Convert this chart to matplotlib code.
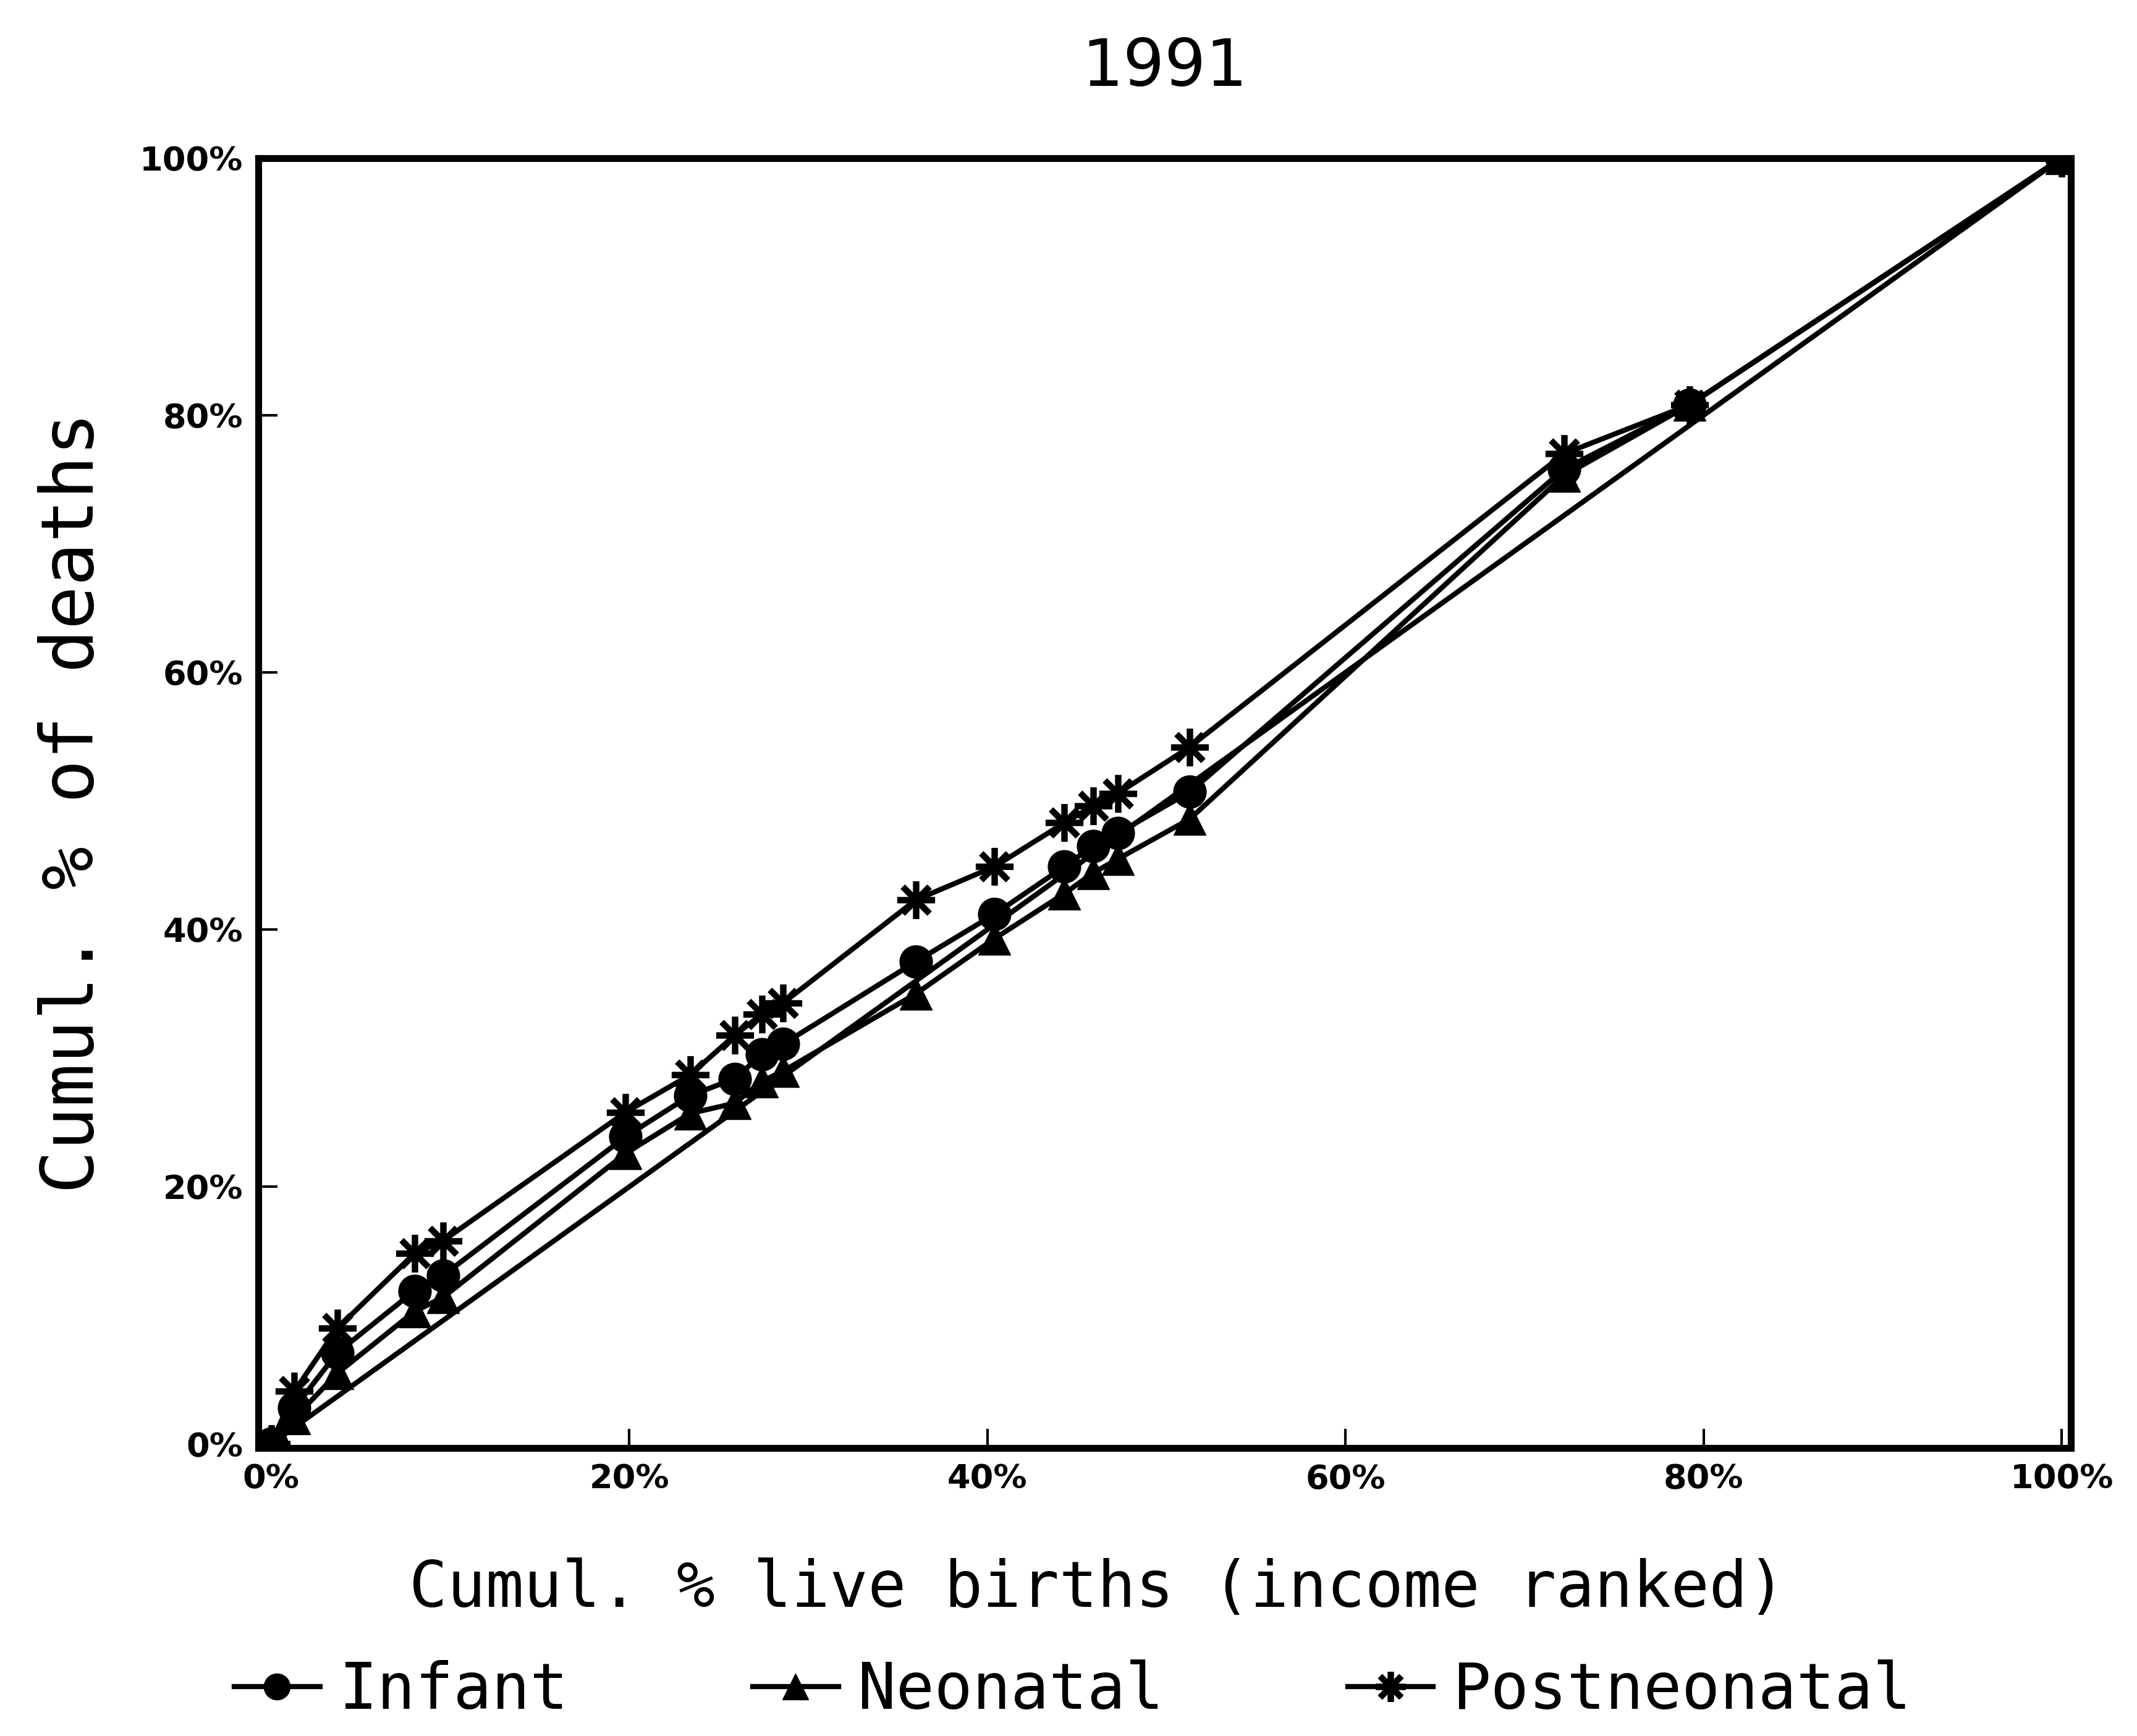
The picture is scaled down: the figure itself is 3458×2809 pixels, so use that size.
import matplotlib
matplotlib.use("Agg")
import matplotlib.pyplot as plt

# cumulative % of live births (income ranked)
births = [0, 1.3, 3.7, 8.0, 9.6, 19.8, 23.4, 25.9, 27.4, 28.6, 36.0, 40.4,
          44.3, 45.9, 47.3, 51.3, 72.2, 79.2, 100]

# cumulative % of deaths
infant = [0, 2.8, 7.1, 11.9, 13.1, 23.9, 27.1, 28.4, 30.3, 31.1, 37.5, 41.2,
          44.9, 46.5, 47.5, 50.7, 75.8, 80.8, 100]
neonatal = [0, 2.0, 5.5, 10.3, 11.4, 22.6, 25.7, 26.5, 28.2, 29.0, 35.0, 39.3,
            42.8, 44.4, 45.5, 48.6, 75.3, 80.8, 100]
postneonatal = [0, 4.1, 9.0, 14.8, 15.8, 25.8, 28.7, 31.8, 33.4, 34.3, 42.3, 44.9,
                48.3, 49.6, 50.6, 54.2, 77.0, 80.8, 100]

equality = [0, 100]

ticks = [0, 20, 40, 60, 80, 100]
tick_labels = ["0%", "20%", "40%", "60%", "80%", "100%"]

mono = "DejaVu Sans Mono"

fig = plt.figure(figsize=(34.58, 28.09), dpi=100)
ax = fig.add_axes([0.121, 0.166, 0.848, 0.743])

lw = 6
ax.plot(equality, equality, color="black", linewidth=lw)
ax.plot(births, infant, color="black", linewidth=lw, marker="o",
        markersize=38, label="Infant")
ax.plot(births, neonatal, color="black", linewidth=lw, marker="^",
        markersize=38, label="Neonatal")
ax.plot(births, postneonatal, color="black", linewidth=lw, marker=(8, 2, 0),
        markersize=44, markeredgewidth=7, label="Postneonatal")

ax.set_xlim(-0.7, 100.5)
ax.set_ylim(-0.3, 100)
ax.set_xticks(ticks)
ax.set_xticklabels(tick_labels)
ax.set_yticks(ticks)
ax.set_yticklabels(tick_labels)
ax.tick_params(direction="in", length=22, width=3, labelsize=39, pad=18)
for lab in ax.get_xticklabels() + ax.get_yticklabels():
    lab.set_fontweight("bold")

for s in ax.spines.values():
    s.set_linewidth(8)

ax.set_title("1991", fontsize=76, pad=84)
ax.set_xlabel("Cumul. % live births (income ranked)", fontsize=74,
              family=mono)
ax.xaxis.set_label_coords(0.463, -0.085)
ax.set_ylabel("Cumul. % of deaths", fontsize=84, family=mono, labelpad=36)

fig.legend(loc="center", bbox_to_anchor=(0.502, 0.026), ncol=3, frameon=False,
           prop={"family": mono, "size": 74}, handlelength=1.35,
           handletextpad=0.3, columnspacing=2.9, markerscale=0.8)

fig.savefig("out.png", dpi=100, facecolor="white")
